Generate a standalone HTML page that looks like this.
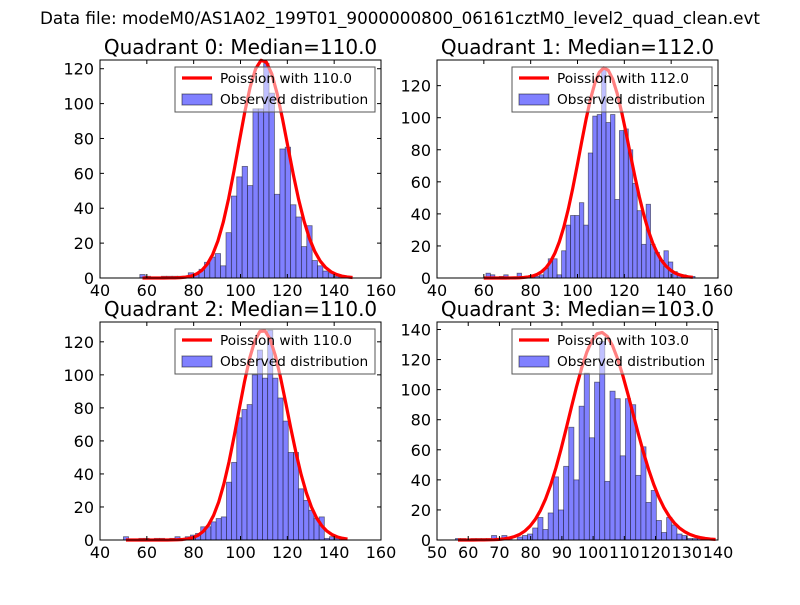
<!DOCTYPE html>
<html><head><meta charset="utf-8"><style>
body{margin:0;background:#fff;}
svg text{font-family:"DejaVu Sans","Liberation Sans",sans-serif;}
</style></head><body>
<svg id="fig" width="800" height="600" viewBox="0 0 800 600">
<rect width="800" height="600" fill="#fff"/>
<text x="400" y="24" font-size="16.8" text-anchor="middle">Data file: modeM0/AS1A02_199T01_9000000800_06161cztM0_level2_quad_clean.evt</text>
</svg>
<script>
// Quadrant 0
const q0Counts = [2,1,0,0,1,1,1,1,1,3,2,5,9,12,14,7,26,47,58,64,53,97,97,123,106,48,74,75,42,35,18,30,10,7,4,3,1,1,0,0];
const q0BinStart = 57, q0BinWidth = 2.3, q0Median = 110.0, q0Peak = 125;
// Quadrant 1
const q1Counts = [0,3,2,0,1,2,0,0,3,0,0,1,1,2,6,12,12,2,17,33,39,39,47,33,78,101,102,130,97,102,49,92,93,80,59,42,21,46,21,16,11,17,10,4,2,2,1,1];
const q1BinStart = 59, q1BinWidth = 1.9, q1Median = 112.0, q1Peak = 131;
// Quadrant 2
const q2Counts = [2,0,0,1,1,0,1,1,0,1,2,1,2,3,4,8,8,11,13,14,35,47,74,79,82,100,115,98,127,98,86,72,53,53,31,24,18,13,14,1,2,1,1,0];
const q2BinStart = 50, q2BinWidth = 2.2, q2Median = 110.0, q2Peak = 127;
// Quadrant 3
const q3Counts = [1,1,0,1,1,1,1,3,1,3,1,0,2,3,4,8,15,7,18,42,20,49,75,40,89,111,68,105,132,39,99,94,56,94,90,43,62,25,33,13,5,15,10,4,3,1,1,1,0,1,0];
const q3BinStart = 55.9, q3BinWidth = 1.65, q3Median = 103.0, q3Peak = 138;
// Axis ticks
const xTicksA = [40,60,80,100,120,140,160];
const xTicksB = [50,60,70,80,90,100,110,120,130,140];
const yTicks0 = [0,20,40,60,80,100,120];
const yTicks3 = [0,20,40,60,80,100,120,140];

const NS = "http://www.w3.org/2000/svg";
const fig = document.getElementById('fig');
function mk(tag, attrs, parent){const e=document.createElementNS(NS,tag);for(const k in attrs)e.setAttribute(k,attrs[k]);(parent||fig).appendChild(e);return e;}
function lgamma(x){
  let s=0; while(x<7){s-=Math.log(x);x+=1;}
  return s+(x-0.5)*Math.log(x)-x+0.5*Math.log(2*Math.PI)+1/(12*x)-1/(360*x*x*x);
}
function logPois(k,mu){return k*Math.log(mu)-mu-lgamma(k+1);}

const panels = [
 {id:0,L:100,R:381,T:60,B:278,xmin:40,xmax:160,ymax:125,xt:xTicksA,yt:yTicks0,counts:q0Counts,bs:q0BinStart,bw:q0BinWidth,med:q0Median,peak:q0Peak},
 {id:1,L:437,R:718,T:60,B:278,xmin:40,xmax:160,ymax:136,xt:xTicksA,yt:yTicks0,counts:q1Counts,bs:q1BinStart,bw:q1BinWidth,med:q1Median,peak:q1Peak},
 {id:2,L:100,R:381,T:322,B:540,xmin:40,xmax:160,ymax:132,xt:xTicksA,yt:yTicks0,counts:q2Counts,bs:q2BinStart,bw:q2BinWidth,med:q2Median,peak:q2Peak},
 {id:3,L:437,R:718,T:322,B:540,xmin:50,xmax:140,ymax:145,xt:xTicksB,yt:yTicks3,counts:q3Counts,bs:q3BinStart,bw:q3BinWidth,med:q3Median,peak:q3Peak}
];

panels.forEach(p=>{
  const g = mk('g',{});
  
  
  const sx = v=>p.L+(v-p.xmin)/(p.xmax-p.xmin)*(p.R-p.L);
  const sy = v=>p.B-v/p.ymax*(p.B-p.T);
  const t = mk('text',{x:(p.L+p.R)/2,y:p.T-6,'font-size':20,'text-anchor':'middle'},g);
  t.textContent='Quadrant '+p.id+': Median='+p.med.toFixed(1);
  
  
  p.counts.forEach((c,i)=>{
    if(c<=0) return;
    const x0=sx(p.bs+i*p.bw), x1=sx(p.bs+(i+1)*p.bw);
    const r = mk('rect',{x:x0,y:sy(c),width:x1-x0,height:sy(0)-sy(c),fill:'#8080ff',stroke:'rgba(0,0,0,0.5)','stroke-width':0.8},g);
    
    
  });
  const ref = logPois(p.med,p.med);
  let d='';
  p.counts.forEach((c,i)=>{
    const k=p.bs+(i+0.5)*p.bw;
    const v=p.peak*Math.exp(logPois(k,p.med)-ref);
    d+=(i?'L':'M')+sx(k).toFixed(2)+' '+sy(v).toFixed(2);
  });
  const cp = mk('path',{d:d,fill:'none',stroke:'#ff0000','stroke-width':3.2,'stroke-linejoin':'round'},g);
  
  
  const fr = mk('rect',{x:p.L,y:p.T,width:p.R-p.L,height:p.B-p.T,fill:'none',stroke:'#000','stroke-width':1},g);
  
  
  p.xt.forEach(v=>{
    const x=sx(v);
    mk('line',{x1:x,x2:x,y1:p.B,y2:p.B-4,stroke:'#000'},g);
    mk('line',{x1:x,x2:x,y1:p.T,y2:p.T+4,stroke:'#000'},g);
    const tl=mk('text',{x:x,y:p.B+18,'font-size':16,'text-anchor':'middle'},g);
    tl.textContent=v;
    
    
  });
  p.yt.forEach(v=>{
    const y=sy(v);
    mk('line',{x1:p.L,x2:p.L+4,y1:y,y2:y,stroke:'#000'},g);
    mk('line',{x1:p.R,x2:p.R-4,y1:y,y2:y,stroke:'#000'},g);
    const tl=mk('text',{x:p.L-6,y:y+6,'font-size':16,'text-anchor':'end'},g);
    tl.textContent=v;
    
    
  });
  const lg = mk('g',{},g);
  
  
  const lx=p.R-206, ly=p.T+7;
  mk('rect',{x:lx,y:ly,width:200,height:45,fill:'rgba(255,255,255,0.5)',stroke:'#555','stroke-width':1},lg);
  mk('line',{x1:lx+7,x2:lx+37,y1:ly+11,y2:ly+11,stroke:'#ff0000','stroke-width':3.2},lg);
  const t1=mk('text',{x:lx+45,y:ly+16,'font-size':13.7},lg);
  t1.textContent='Poission with '+p.med.toFixed(1);
  
  
  mk('rect',{x:lx+7,y:ly+27,width:30,height:11,fill:'#8080ff',stroke:'rgba(0,0,0,0.5)'},lg);
  const t2=mk('text',{x:lx+45,y:ly+37,'font-size':13.7},lg);
  t2.textContent='Observed distribution';
  
  
});
</script>
</body></html>
